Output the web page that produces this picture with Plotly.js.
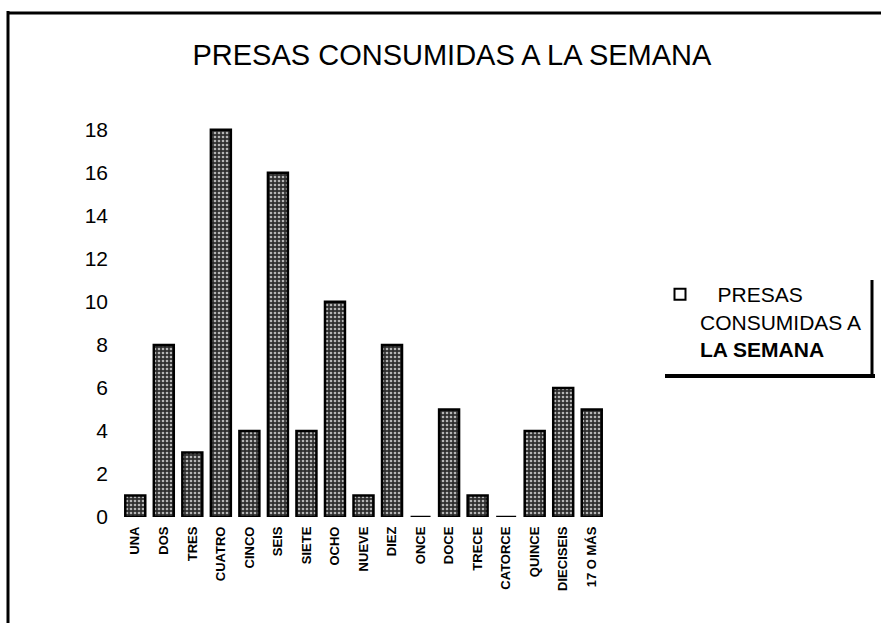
<!DOCTYPE html>
<html>
<head>
<meta charset="utf-8">
<script src="https://cdn.plot.ly/plotly-3.0.1.min.js"></script>
<style>html,body{margin:0;padding:0;background:#fff;}#chart{width:881px;height:623px;}</style>
</head>
<body>
<div id="chart"></div>
<script>
const categories = ["UNA","DOS","TRES","CUATRO","CINCO","SEIS","SIETE","OCHO","NUEVE","DIEZ","ONCE","DOCE","TRECE","CATORCE","QUINCE","DIECISEIS","17 O MÁS"];
const presas = [1,8,3,18,4,16,4,10,1,8,0,5,1,0,4,6,5];
const yTicks = [0,2,4,6,8,10,12,14,16,18];
const seriesName = "\u00a0\u00a0\u00a0PRESAS<br>CONSUMIDAS A<br><b>LA SEMANA</b>";
const chartTitle = "PRESAS CONSUMIDAS A LA SEMANA";

const FONT = "Liberation Sans, Arial, sans-serif";

const bars = {
  type: "bar",
  x: categories,
  y: presas,
  showlegend: false,
  marker: {
    color: "#2a2a2a",
    line: {color: "#000", width: 2.5},
    pattern: {shape: ".", fgcolor: "#b5b5b5", bgcolor: "#2e2e2e", size: 4, solidity: 0.35, fillmode: "replace"}
  },
  hoverinfo: "x+y"
};

const legendEntry = {
  type: "scatter",
  mode: "markers",
  x: [null], y: [null],
  name: seriesName,
  showlegend: true,
  marker: {symbol: "square-open", size: 11, color: "#000", line: {width: 2, color: "#000"}}
};

const px = v => (v - 121) / 485;
const py = v => (517 - v) / 398;

const layout = {
  width: 881, height: 623,
  margin: {l: 121, r: 275, t: 119, b: 106},
  paper_bgcolor: "#fff", plot_bgcolor: "#fff",
  font: {family: FONT, color: "#000"},
  bargap: 0.3,
  title: {
    text: chartTitle,
    font: {family: FONT, size: 29, color: "#000"},
    xref: "container", x: 0.513, xanchor: "center",
    yref: "container", y: 1 - 55/623, yanchor: "middle"
  },
  xaxis: {
    type: "category",
    showline: false, showgrid: false, zeroline: false, ticks: "",
    tickangle: -90,
    tickfont: {family: FONT, size: 13, color: "#000", weight: "bold"},
    ticklabelstandoff: 6
  },
  yaxis: {
    range: [0, 18.5],
    tickvals: yTicks,
    showline: false, showgrid: false, zeroline: false, ticks: "",
    tickfont: {family: FONT, size: 21, color: "#000"},
    ticklabelstandoff: 12
  },
  showlegend: true,
  legend: {
    x: px(660), y: py(274), xanchor: "left", yanchor: "top",
    valign: "top",
    bgcolor: "rgba(0,0,0,0)", borderwidth: 0,
    font: {family: FONT, size: 21, color: "#000"}
  },
  shapes: [
    {type: "line", xref: "paper", yref: "paper", x0: px(8), x1: px(8), y0: py(11), y1: py(630), line: {color: "#000", width: 3}},
    {type: "line", xref: "paper", yref: "paper", x0: px(7), x1: px(890), y0: py(13), y1: py(13), line: {color: "#000", width: 3}},
    {type: "line", xref: "paper", yref: "paper", x0: px(665), x1: px(875), y0: py(376), y1: py(376), line: {color: "#000", width: 4}},
    {type: "line", xref: "paper", yref: "paper", x0: px(872), x1: px(872), y0: py(280), y1: py(378), line: {color: "#000", width: 3}}
  ]
};

Plotly.newPlot("chart", [bars, legendEntry], layout, {displayModeBar: false, staticPlot: true});
</script>
</body>
</html>
